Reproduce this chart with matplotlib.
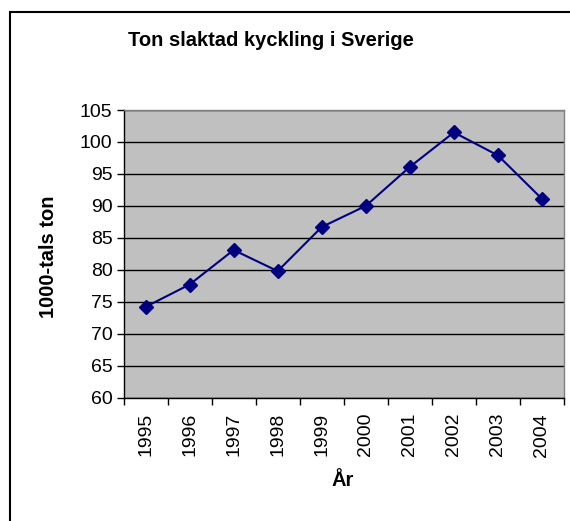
import matplotlib.pyplot as plt
from matplotlib.patches import Rectangle

plt.rcParams['font.family'] = ['Liberation Sans', 'DejaVu Sans']

years = ['1995', '1996', '1997', '1998', '1999', '2000', '2001', '2002', '2003', '2004']
tons = [74.2, 77.7, 83.1, 79.8, 86.7, 90.0, 96.1, 101.5, 97.9, 91.1]

W, H = 570, 521
fig = plt.figure(figsize=(W / 100, H / 100), dpi=100)

# outer chart frame (runs off the right and bottom edges)
fig.patches.append(Rectangle((9.5 / W, -0.05), 1.1, 1 - 12 / H + 0.05,
                             transform=fig.transFigure, fill=False,
                             edgecolor='#000000', linewidth=1.5))

ax = fig.add_axes([123.5 / W, 1 - 397.7 / H, (564 - 123.5) / W, (397.7 - 110) / H])
ax.set_facecolor('#c0c0c0')

x = range(len(years))
ax.plot(x, tons, color='#000080', linewidth=1.5, marker='D', markersize=7,
        markerfacecolor='#000080', markeredgecolor='#000080')

ax.set_ylim(60, 105)
ax.set_yticks(range(60, 106, 5))
ax.set_xlim(-0.5, len(years) - 0.5)
ax.set_xticks([i - 0.5 for i in range(len(years) + 1)])
ax.set_xticklabels([])
ax.set_xticks(list(x), minor=True)
ax.set_xticklabels(years, minor=True, rotation=90)
ax.tick_params(axis='x', which='minor', length=0, pad=11, labelsize=14)
ax.tick_params(axis='x', which='major', length=5, width=1, color='#000000')
ax.tick_params(axis='y', length=5, width=1, labelsize=14, pad=3)

ax.grid(axis='y', color='#000000', linewidth=1)
ax.set_axisbelow(True)
for side in ['top', 'right']:
    ax.spines[side].set_color('#808080')
    ax.spines[side].set_linewidth(1)
for side in ['left', 'bottom']:
    ax.spines[side].set_color('#000000')
    ax.spines[side].set_linewidth(1)

fig.text(271 / W, 1 - 40 / H, 'Ton slaktad kyckling i Sverige', ha='center', va='center',
         fontsize=14.5, fontweight='bold')
fig.text(48 / W, 1 - 257 / H, '1000-tals ton', ha='center', va='center', rotation=90,
         fontsize=14.5, fontweight='bold')
fig.text(343 / W, 1 - 480 / H, 'År', ha='center', va='center',
         fontsize=14.5, fontweight='bold')

fig.savefig('out.png', dpi=100)
